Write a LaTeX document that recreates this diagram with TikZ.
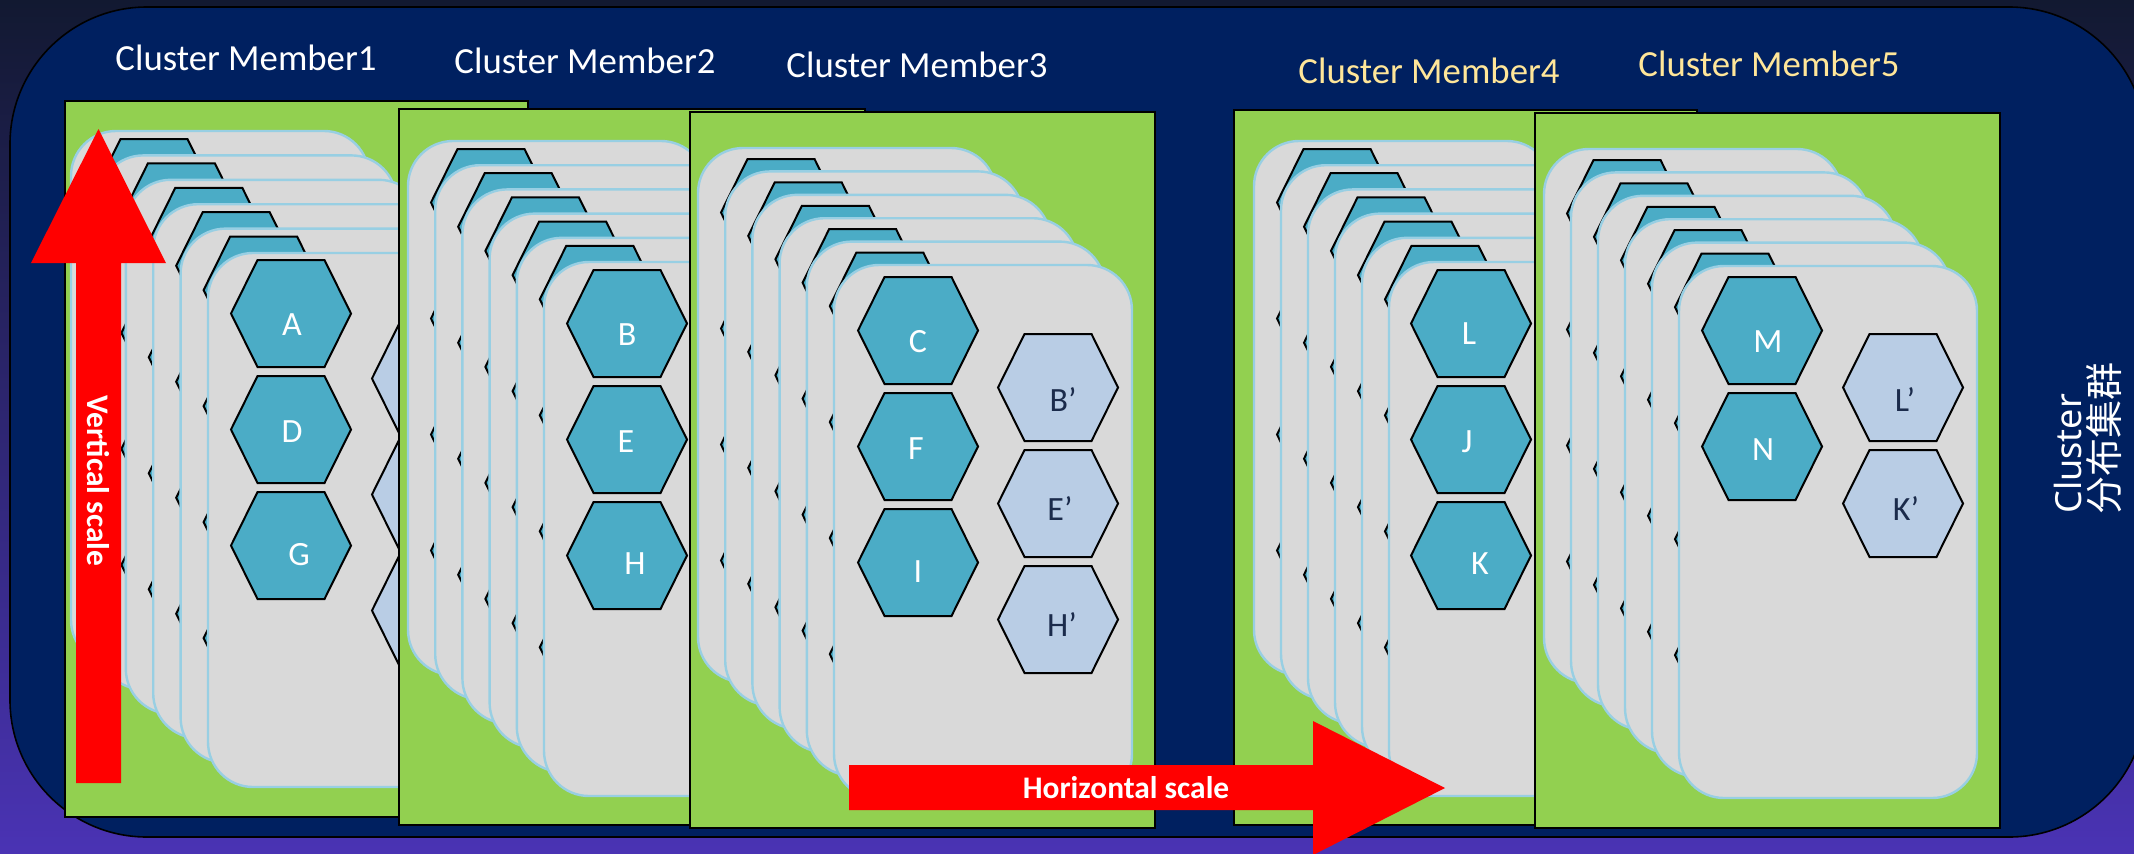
\documentclass[tikz,border=0pt]{standalone}
\usepackage{fontspec}
\setmainfont{Carlito}
\newfontfamily\cjkfont{Noto Sans CJK SC}
\newfontfamily\latsans{Noto Sans}
\definecolor{bgtop}{HTML}{121931}
\definecolor{bgmid}{HTML}{27367A}
\definecolor{bgbot}{HTML}{4A33B4}
\definecolor{navyfill}{HTML}{002060}
\definecolor{grn}{HTML}{92D050}
\definecolor{cardgray}{HTML}{D9D9D9}
\definecolor{cardedge}{HTML}{98CFE3}
\definecolor{tealfill}{HTML}{4BACC6}
\definecolor{lhexfill}{HTML}{B9CDE5}
\definecolor{lhextext}{HTML}{1B2B4B}
\definecolor{gold}{HTML}{FFE699}
\tikzset{
  tealhex/.style={fill=tealfill, draw=black, line width=1pt},
  lighthex/.style={fill=lhexfill, draw=black, line width=1pt},
  cardst/.style={fill=cardgray, draw=cardedge, line width=1.2pt, rounded corners=22.5pt},
  greenbox/.style={fill=grn, draw=black, line width=0.8pt},
  tlbl/.style={text=white, font=\fontsize{17}{20}\selectfont, inner sep=0pt, text height=11pt, text depth=0pt},
  llbl/.style={tlbl, text=lhextext},
  memlbl/.style={text=white, font=\fontsize{18.4}{22}\selectfont, inner sep=0pt},
  scalelbl/.style={text=white, font=\bfseries\fontsize{15.7}{19}\selectfont, inner sep=0pt},
  redarrow/.style={fill=red},
  sidelbl/.style={text=white, font=\cjkfont\fontsize{19}{22}\selectfont, inner sep=0pt, rotate=90, anchor=base west}
}
\newcommand\hexa[3]{%
  \draw[#1] (#2,#3+53.5) -- ++(26.5,-53.5) -- ++(67,0) -- ++(26.5,53.5) -- ++(-26.5,53.5) -- ++(-67,0) -- cycle;}
\newcommand\backcards[5]{%
  \foreach \i in {0,...,4}{%
    \pgfmathsetmacro\bcx{#1+#3*\i}%
    \pgfmathsetmacro\bcy{#2+#4*\i}%
    \draw[cardst] (\bcx,\bcy) rectangle ++(298,534);
    \foreach \k in {0,...,3}{\hexa{tealhex}{\bcx+23}{\bcy+#5+116*\k}}%
  }}
\begin{document}
\begin{tikzpicture}[x=0.5pt,y=-0.5pt]
\useasboundingbox (0,0) rectangle (2134,853);
\clip (0,0) rectangle (2134,853);
\fill[top color=bgtop, middle color=bgmid, bottom color=bgbot] (0,0) rectangle (2134,853);
\draw[fill=navyfill, draw=black, line width=0.8pt, rounded corners=68.5pt] (10,7) rectangle (2146,837);

% member labels
\node[memlbl] (m1) at (246,58) {Cluster Member1};
\node[memlbl] (m2) at (585,61) {Cluster Member2};
\node[memlbl] (m3) at (917,65) {Cluster Member3};
\node[memlbl, text=gold] (m4) at (1429,71) {Cluster Member4};
\node[memlbl, text=gold] (m5) at (1769,64) {Cluster Member5};

% ---------- member 1
\draw[greenbox] (65,101) rectangle (528,817);
\backcards{71}{131}{27.4}{24.4}{8}
\draw[cardst] (208,253) rectangle ++(298,534);
\hexa{tealhex}{231}{260}
\hexa{tealhex}{231}{376}
\hexa{tealhex}{231}{492}
\hexa{lighthex}{372}{325}
\hexa{lighthex}{372}{441}
\hexa{lighthex}{372}{557}
\node[tlbl] (hA) at (292,324) {A};
\node[tlbl] (hD) at (292,431) {D};
\node[tlbl] (hG) at (299,554) {G};

% ---------- member 2
\draw[greenbox] (399,109) rectangle (865,825);
\backcards{408}{141}{27.2}{24.2}{8}
\draw[cardst] (544,262) rectangle ++(298,534);
\hexa{tealhex}{567}{270}
\hexa{tealhex}{567}{386}
\hexa{tealhex}{567}{502}
\node[tlbl] (hB) at (627,334) {B};
\node[tlbl] (hE) at (626,441) {E};
\node[tlbl] (hH) at (635,563) {H};

% ---------- member 3
\draw[greenbox] (690,112) rectangle (1155,828);
\backcards{698}{148}{27.2}{23.4}{11}
\draw[cardst] (834,265) rectangle ++(298,534);
\hexa{tealhex}{858}{277}
\hexa{tealhex}{858}{393}
\hexa{tealhex}{858}{509}
\hexa{lighthex}{998}{334}
\hexa{lighthex}{998}{450}
\hexa{lighthex}{998}{566}
\node[tlbl] (hC) at (918,341) {C};
\node[tlbl] (hF) at (916,448) {F};
\node[tlbl] (hI) at (918,571) {I};
\node[llbl] (hBp) at (1063,400) {B’};
\node[llbl] (hEp) at (1060,509) {E’};
\node[llbl] (hHp) at (1062,625) {H’};

% ---------- member 4
\draw[greenbox] (1234,110) rectangle (1697,825);
\backcards{1254}{141}{27}{24.2}{8}
\draw[cardst] (1389,262) rectangle ++(298,534);
\hexa{tealhex}{1411}{270}
\hexa{tealhex}{1411}{386}
\hexa{tealhex}{1411}{502}
\node[tlbl] (hL) at (1469,333) {L};
\node[tlbl] (hJ) at (1467,441) {J};
\node[tlbl] (hK) at (1480,563) {K};

% ---------- member 5
\draw[greenbox] (1535,113) rectangle (2000,828);
\backcards{1544}{149}{27}{23.4}{11}
\draw[cardst] (1679,266) rectangle ++(298,532);
\hexa{tealhex}{1702}{277}
\hexa{tealhex}{1702}{393}
\hexa{lighthex}{1843}{334}
\hexa{lighthex}{1843}{450}
\node[tlbl] (hM) at (1768,341) {M};
\node[tlbl] (hN) at (1763,449) {N};
\node[llbl] (hLp) at (1905,400) {L’};
\node[llbl] (hKp) at (1906,509) {K’};

% ---------- arrows
\fill[redarrow] (76,783) -- (76,263) -- (31,263) -- (98.5,129) -- (166,263) -- (121,263) -- (121,783) -- cycle;
\node[scalelbl, rotate=-90] (vs) at (98.5,481) {Vertical scale};
\fill[redarrow] (849,765) -- (1313,765) -- (1313,721) -- (1445,788) -- (1313,855) -- (1313,810) -- (849,810) -- cycle;
\node[scalelbl] (hs) at (1126,788) {Horizontal scale};

% ---------- side label
\node[sidelbl, font=\latsans\fontsize{18}{22}\selectfont] (cl) at (2081,514) {Cluster};
\node[sidelbl] (cn) at (2118,515) {分布集群};
\end{tikzpicture}
\end{document}
